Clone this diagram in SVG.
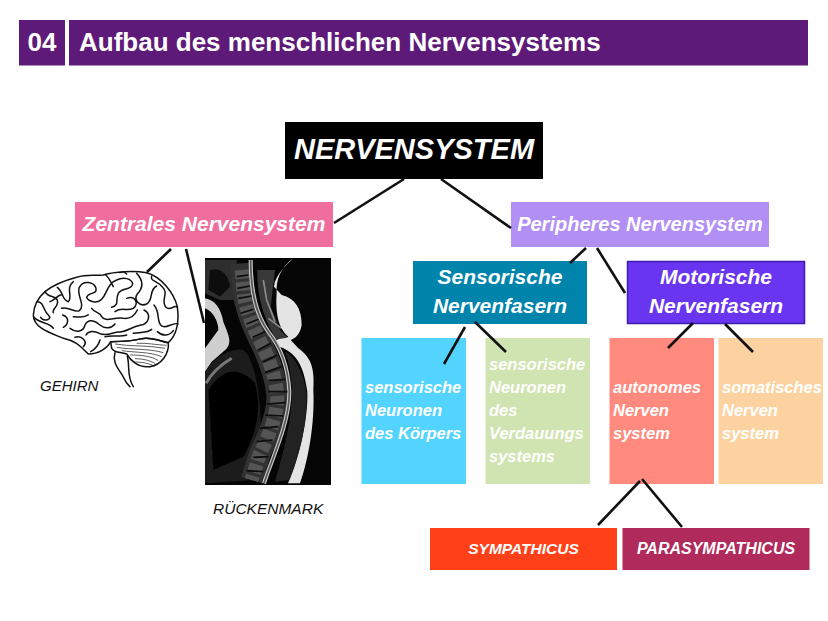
<svg xmlns="http://www.w3.org/2000/svg" width="828" height="621" viewBox="0 0 828 621">
<defs>
<style>
text{font-family:"Liberation Sans",Arial,sans-serif;fill:#fff}
.b{font-weight:bold}
.bi{font-weight:bold;font-style:italic}
.m{text-anchor:middle}
.h2{font-size:21px}
.s{font-size:16.500px}
.cap{font-size:15px;font-style:italic;fill:#111}
.c line{stroke:#111;stroke-width:2.6;stroke-linecap:butt}
.br{fill:none;stroke:#111;stroke-width:4.500;stroke-linecap:round;stroke-linejoin:round}
.th{fill:none;stroke:#222;stroke-width:2.2}
</style>
<filter id="soft" x="-5%" y="-5%" width="110%" height="110%"><feGaussianBlur stdDeviation="1.500"/></filter>
<clipPath id="mri"><rect x="15" y="25" width="378" height="680"/></clipPath>
</defs>
<rect width="828" height="621" fill="#fff"/>

<g id="header">
<rect x="19" y="20" width="46" height="45.500" fill="#5e1a78"/>
<rect x="69" y="20" width="739" height="45.500" fill="#5e1a78"/>
<text x="42" y="51" class="b m" font-size="26">04</text>
<text x="79" y="51" class="b" font-size="26">Aufbau des menschlichen Nervensystems</text>
</g>

<g id="nervensystem">
<rect x="285" y="122" width="258" height="57" fill="#000"/>
<text x="414" y="159" class="bi m" font-size="29">NERVENSYSTEM</text>
</g>
<g id="zentrales">
<rect x="75" y="202" width="258" height="45" fill="#ef6e9d"/>
<text x="204" y="231" class="bi m h2">Zentrales Nervensystem</text>
</g>
<g id="peripheres">
<rect x="511" y="202" width="258" height="45" fill="#b28ff5"/>
<text x="640" y="231" class="bi m" font-size="20">Peripheres Nervensystem</text>
</g>
<g id="sensorische">
<rect x="413" y="261" width="174" height="63" fill="#0084ac"/>
<text x="500" y="284" class="bi m h2">Sensorische</text>
<text x="500" y="313" class="bi m h2">Nervenfasern</text>
</g>
<g id="motorische">
<rect x="627.500" y="261.500" width="177" height="62" fill="#6a35f0" stroke="#3f1bb0" stroke-width="1.500"/>
<text x="716" y="284" class="bi m h2">Motorische</text>
<text x="716" y="313" class="bi m h2">Nervenfasern</text>
</g>
<g id="sensorische-neuronen-koerper">
<rect x="361.500" y="338" width="104.500" height="146" fill="#52d4ff"/>
<text x="365" y="393" class="bi s">sensorische</text>
<text x="365" y="416" class="bi s">Neuronen</text>
<text x="365" y="439" class="bi s">des Körpers</text>
</g>
<g id="sensorische-neuronen-verdauung">
<rect x="485.500" y="338" width="104.500" height="146" fill="#cfe4b0"/>
<text x="489" y="370" class="bi s">sensorische</text>
<text x="489" y="393" class="bi s">Neuronen</text>
<text x="489" y="416" class="bi s">des</text>
<text x="489" y="439" class="bi s">Verdauungs</text>
<text x="489" y="462" class="bi s">systems</text>
</g>
<g id="autonomes">
<rect x="609.500" y="338" width="104.500" height="146" fill="#ff8a7d"/>
<text x="613" y="393" class="bi s">autonomes</text>
<text x="613" y="416" class="bi s">Nerven</text>
<text x="613" y="439" class="bi s">system</text>
</g>
<g id="somatisches">
<rect x="718.500" y="338" width="104.500" height="146" fill="#fcd3a0"/>
<text x="722" y="393" class="bi s">somatisches</text>
<text x="722" y="416" class="bi s">Nerven</text>
<text x="722" y="439" class="bi s">system</text>
</g>
<g id="sympathicus">
<rect x="430" y="528" width="187" height="42" fill="#ff4019"/>
<text x="523.500" y="554" class="bi m" font-size="15.500">SYMPATHICUS</text>
</g>
<g id="parasympathicus">
<rect x="622.500" y="528" width="187" height="42" fill="#b02a5b"/>
<text x="716" y="554" class="bi m" font-size="16">PARASYMPATHICUS</text>
</g>

<g id="gehirn">
<g transform="translate(20 200) scale(.3333)">
<path class="br" fill="#fff" d="M40,345 C42,315 52,295 75,275 C100,255 140,240 170,232 C200,222 225,228 250,225 C285,215 340,212 380,218 C425,230 462,280 472,320 C478,365 470,405 445,428 C425,425 395,410 365,416 C335,425 300,425 272,425 C262,445 235,462 205,462 C185,445 175,425 130,415 C95,400 40,385 40,345Z"/>
<path class="br" d="M52,305 C72,305 68,330 85,345 C100,360 70,365 62,352 M75,275 C85,295 105,285 112,300 C118,320 95,325 100,338 M42,352 C60,372 85,365 100,385 M112,262 C130,275 125,300 145,305 C160,290 135,265 160,245 M125,325 C145,318 165,340 178,332 C198,315 168,285 178,262 C190,240 222,245 228,265 C232,285 205,275 200,292 C205,305 232,312 245,298 C262,280 262,250 290,240 C310,230 335,235 338,252 C335,272 305,262 295,280 C285,300 300,315 275,322 M128,345 C150,352 145,375 130,382 M150,385 C170,400 190,395 195,375 C205,355 225,362 240,375 C255,388 275,385 285,372 M215,325 C225,340 240,335 245,350 C255,368 285,350 310,355 C335,358 345,345 352,330 M320,295 C345,285 358,310 340,325 C320,335 305,320 285,335 M350,220 C368,240 372,262 352,282 C340,298 358,322 380,312 C402,300 385,270 410,258 M395,228 C390,245 410,240 428,262 C448,282 420,300 438,322 C452,335 462,312 472,322 M372,330 C395,342 388,372 360,376 C335,380 322,395 298,396 C280,395 260,412 238,400 C222,392 205,392 198,405 M402,315 C422,338 408,365 425,378 C440,388 458,365 474,372 M165,412 C185,405 205,425 190,440 M240,420 C235,438 225,448 212,455 M412,395 C428,410 448,408 460,392 M90,305 C105,300 118,280 128,285 M255,410 C275,405 300,412 320,405 M340,400 C365,395 380,400 395,388 M280,260 C270,240 262,228 258,226 M320,222 C310,212 305,215 300,218 M160,350 C178,350 190,355 205,345"/>
<path class="br" fill="#fff" d="M272,425 C300,425 335,425 365,416 C395,410 425,425 445,428 C448,460 425,495 390,500 C355,505 330,480 320,462 C300,455 285,460 275,445Z"/>
<path class="th" d="M285,432 C330,440 380,435 435,445 M290,442 C335,450 385,445 430,458 M305,452 C345,458 390,455 425,470 M330,465 C360,465 395,468 415,482 M345,476 C370,476 390,482 405,490 M350,430 C380,428 410,435 440,436 M338,486 C365,486 385,490 398,496"/>
<path class="br" d="M285,458 C275,490 300,510 312,535 C318,550 325,555 330,560 M322,468 C330,500 320,530 340,560"/>
</g>
</g>

<g id="rueckenmark">
<rect x="205" y="258" width="126" height="227" fill="#050505"/>
<g transform="translate(200 250) scale(.3333)" clip-path="url(#mri)">
<g filter="url(#soft)">
<path fill="#2e2e2e" d="M15,30 H110 V150 L60,150 L15,130Z"/>
<path fill="#111" d="M30,60 C60,50 85,70 90,110 L60,140 L25,120Z"/>
<path fill="#cfcfcf" d="M15,145 C45,150 62,175 70,215 C85,255 98,275 78,298 L35,335 L15,365 V295 L55,240 C55,215 40,185 15,175Z"/>
<path fill="#1c1c1c" d="M15,365 C50,310 100,295 130,300 C170,330 200,500 170,690 L15,700Z"/>
<path fill="#060606" d="M25,420 C70,350 120,350 165,400 C185,470 175,540 130,620 L40,660Z"/>
<path fill="none" stroke="#777" stroke-width="9" d="M18,400 C40,360 70,340 95,325"/>
<path fill="none" stroke="#333" stroke-width="65" d="M125,40 L130,120 C135,170 150,210 175,262 C205,320 228,380 232,440 C232,500 205,560 180,610 L155,690"/>
<path fill="none" stroke="#555" stroke-width="42" stroke-dasharray="26 10" d="M125,60 L130,120 C135,170 150,210 175,262 C205,320 228,380 232,440 C232,500 205,560 180,610 L155,690"/>
<path fill="#383838" d="M172,60 H225 L212,170 L240,240 L268,268 L232,272 C200,225 170,150 172,60Z"/>
<path fill="none" stroke="#8a8a8a" stroke-width="5" d="M190,90 L200,150 L225,215 M205,205 L245,235"/>
<path fill="#e4e4e4" d="M280,25 C260,45 225,75 222,110 L245,135 C285,145 305,175 305,225 C300,255 285,265 272,270 L295,295 C330,320 345,350 340,420 C345,520 325,630 300,700 H264 C300,620 325,500 322,425 C312,350 290,305 232,288 L228,272 C240,262 255,268 265,260 C240,240 225,200 230,130 C228,90 240,55 280,25Z"/>
<path fill="#242424" d="M255,305 C285,320 312,370 320,430 C322,520 300,610 268,690 L225,695 C250,610 280,500 275,405 C272,360 265,330 255,305Z"/>
<path fill="none" stroke="#c8c8c8" stroke-width="12" d="M152,30 C152,120 165,190 205,245 C245,295 265,360 268,425 C268,520 218,620 192,700"/>
<path fill="none" stroke="#555" stroke-width="5" d="M152,30 C152,120 165,190 205,245 C245,295 265,360 268,425 C268,520 218,620 192,700"/>
<g fill="none" stroke="#0a0a0a" stroke-width="5">
<path d="M110,80 L145,75 M112,115 L150,108 M115,145 L155,138 M122,190 L160,178 M140,222 L175,208 M158,262 L195,245 M175,300 L212,280 M190,335 L232,315 M195,368 L245,350 M205,392 L255,388 M205,425 L262,425 M200,462 L258,458 M195,495 L250,498 M180,535 L235,530 M170,575 L218,570 M160,622 L205,620 M140,662 L190,665"/>
</g>
</g>
</g>
</g>

<g id="captions">
<text x="40" y="391" class="cap">GEHIRN</text>
<text x="213" y="514" class="cap" style="font-size:15.500px">RÜCKENMARK</text>
</g>

<g id="connectors" class="c">
<line x1="404" y1="179" x2="334" y2="223"/>
<line x1="441" y1="179" x2="511" y2="228"/>
<line x1="171" y1="249" x2="147" y2="272"/>
<line x1="186" y1="249" x2="204" y2="323"/>
<line x1="586" y1="248" x2="570" y2="263"/>
<line x1="597" y1="248" x2="625" y2="293"/>
<line x1="465" y1="327" x2="444" y2="364"/>
<line x1="475" y1="322" x2="506" y2="352"/>
<line x1="693" y1="323" x2="668" y2="348"/>
<line x1="725" y1="324" x2="753" y2="352"/>
<line x1="640" y1="481" x2="598" y2="525"/>
<line x1="642" y1="479" x2="682" y2="527"/>
</g>
</svg>
